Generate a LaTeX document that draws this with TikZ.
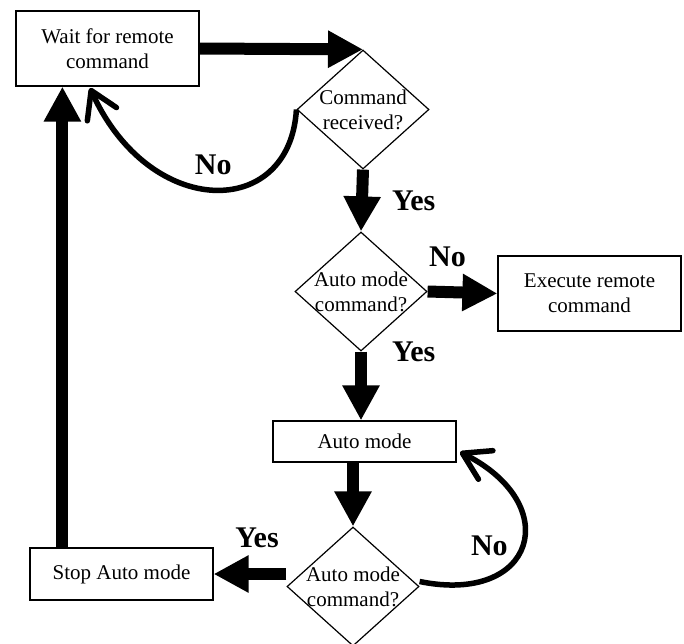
\documentclass[tikz,border=0pt]{standalone}
\usepackage{fontspec}
\setmainfont{Liberation Serif}
\usetikzlibrary{arrows.meta,shapes.geometric,positioning,calc}

\begin{document}
\begin{tikzpicture}[x=1pt,y=-1pt,
  process/.style={draw,line width=1.2pt,minimum width=183pt,inner sep=0pt,align=center,font=\fontsize{21}{25}\selectfont},
  decision/.style={diamond,draw,line width=1.2pt,minimum width=132pt,minimum height=119pt,inner sep=0pt},
  dectext/.style={align=center,inner sep=0pt,font=\fontsize{21}{25}\selectfont},
  bigarrow/.style={line width=12pt,-{Triangle[length=35pt,width=35pt]}},
  loopback/.style={line width=5.5pt,-{Straight Barb[length=26pt,width=32pt,line width=5.5pt,round]}},
  lbl/.style={inner sep=0pt,font=\fontsize{30}{32}\selectfont\bfseries}]
\useasboundingbox (0,0) rectangle (684,643);
%Kaesten und Rauten
\node[process,minimum height=75pt] (wait) at (107.5,48.5) {Wait for remote\\command};
\node[decision] (cmd) at (363,109.5) {};
\node[dectext] (cmdtxt) at (cmd) {Command\\received?};
\node[decision] (auto1) at (361,291.5) {};
\node[dectext] (auto1txt) at (auto1) {Auto mode\\command?};
\node[process,minimum height=75pt] (exec) at (589.5,293.5) {Execute remote\\command};
\node[process,minimum height=41pt] (automode) at (364.5,441.5) {Auto mode};
\node[decision] (auto2) at (353,586.5) {};
\node[dectext] (auto2txt) at (auto2) {Auto mode\\command?};
\node[process,minimum height=52pt] (stop) at (121.5,574) {Stop Auto mode};
%Enden der Schleifenpfeile
\coordinate (tipA) at (90,88);
\coordinate (tipB) at (460,452);
%dicke Pfeile
\draw[bigarrow] (wait.east) -- (cmd.north);
\draw[bigarrow] (cmd.south) --node[lbl,right=24pt] {Yes} (auto1.north);
\draw[bigarrow] (auto1.east) --node[lbl,above=20pt,xshift=-15pt] {No} (exec.west);
\draw[bigarrow] (auto1.south) --node[pos=0,lbl,right=25pt] {Yes} (auto1.south |- automode.north);
\draw[bigarrow] (automode.south -| auto2.north) -- (auto2.north);
\draw[bigarrow] (auto2.west |- stop.east) --node[lbl,above=20pt,xshift=7pt] {Yes} (stop.east);
\draw[bigarrow] ([xshift=33pt]stop.north west) -- ([xshift=33pt]stop.north west |- wait.south);
%gebogene Pfeile
\draw[loopback] (cmd.west) .. controls (290,220) and (150,220) ..node[lbl,above=12pt] {No} (tipA);
\draw[loopback] ([yshift=5pt]auto2.east) .. controls (535,605) and (565,505) ..node[lbl,left=12pt] {No} (tipB);
\end{tikzpicture}
\end{document}
